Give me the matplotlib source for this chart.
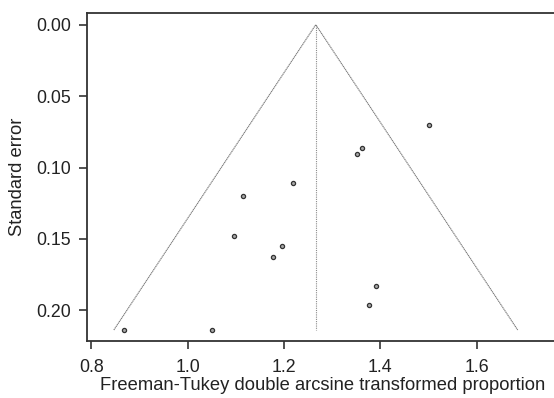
import matplotlib
matplotlib.use("Agg")
import matplotlib.pyplot as plt
import numpy as np

# Data
est = [0.868, 1.051, 1.097, 1.114, 1.219, 1.177, 1.196, 1.352, 1.362, 1.500, 1.390, 1.377]
se = [0.2138, 0.2138, 0.1478, 0.1197, 0.1106, 0.1624, 0.1547, 0.0905, 0.0866, 0.0705, 0.1830, 0.1965]
pooled = 1.266
se_max = 0.2138
xticks = [0.8, 1.0, 1.2, 1.4, 1.6]
yticks = [0.00, 0.05, 0.10, 0.15, 0.20]

plt.rcParams['font.family'] = ['Liberation Sans', 'DejaVu Sans']
W, H = 554, 398
fig = plt.figure(figsize=(W / 100, H / 100), dpi=100)
left, right, top, bottom = 87.3, 558, 13.3, 341
ax = fig.add_axes([left / W, 1 - bottom / H, (right - left) / W, (bottom - top) / H])

# funnel
ax.plot([pooled - 1.96 * se_max, pooled, pooled + 1.96 * se_max], [se_max, 0, se_max],
        color='#7a7a7a', lw=0.8, ls=(0, (1.2, 0.5)))
ax.plot([pooled, pooled], [0, se_max], color='#8a8a8a', lw=0.8, ls=(0, (1, 1)))

ax.scatter(est, se, s=9, facecolor='#a8a8a8', edgecolor='#333333', linewidths=0.9, zorder=3)

pxu = 481.9
x0 = 0.8 - (91.2 - left) / pxu
x1 = 0.8 + (right - 91.2) / pxu
ax.set_xlim(x0, x1)
ypu = 1428.0
ax.set_ylim((bottom - 24.7) / ypu, -(24.7 - top) / ypu)
ax.set_xticks(xticks)
ax.set_xticklabels(['0.8', '1.0', '1.2', '1.4', '1.6'])
ax.set_yticks(yticks)
ax.set_yticklabels(['0.00', '0.05', '0.10', '0.15', '0.20'])

for s in ax.spines.values():
    s.set_color('#333333')
    s.set_linewidth(1.3)
ax.spines['right'].set_visible(False)
ax.tick_params(direction='out', length=6, width=1.2, color='#333333',
               labelsize=12.8, labelcolor='#222222')
ax.tick_params(axis='x', pad=7)
ax.tick_params(axis='y', pad=6)
ax.set_xlabel('Freeman-Tukey double arcsine transformed proportion', fontsize=13.2,
              color='#222222', labelpad=1)
ax.set_ylabel('Standard error', fontsize=13.2, color='#222222', labelpad=7)

fig.savefig('out.png', dpi=100)
